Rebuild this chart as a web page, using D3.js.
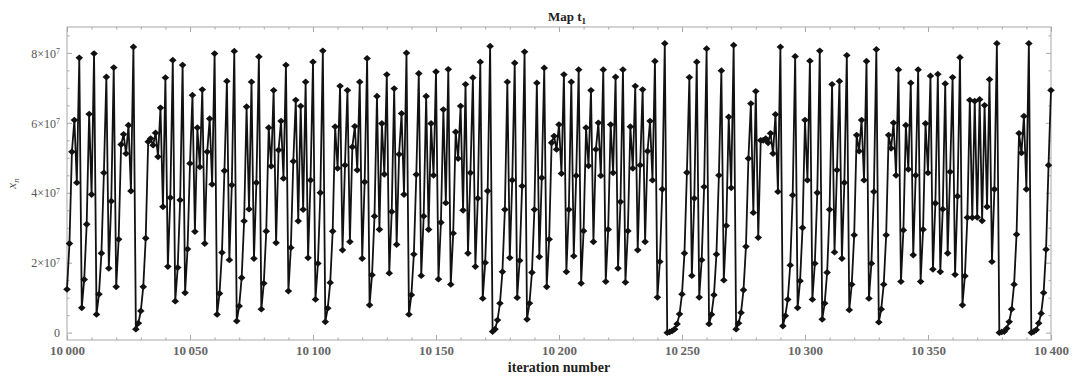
<!DOCTYPE html>
<html>
<head>
<meta charset="utf-8">
<script src="https://cdn.jsdelivr.net/npm/d3@7"></script>
<style>
  body { margin: 0; background: #fff; }
  svg { display: block; font-family: "Liberation Serif", "DejaVu Serif", serif; }
</style>
</head>
<body>
<svg id="chart" width="1075" height="381"></svg>
<script>
// iteration numbers run from 10000 to 10400, one point per iteration
const firstIteration = 10000;

// x_n, in units of 1e7
const xnValues = [
  1.24, 2.55, 5.17, 6.08, 4.29, 7.86, 0.71, 1.52, 3.1, 6.25, 3.95, 7.98, 0.52, 1.1, 2.27, 4.57, 7.31,
  1.84, 3.76, 7.58, 1.31, 2.67, 5.38, 5.67, 5.12, 5.93, 4.05, 8.17, 0.1, 0.27, 0.62, 1.31, 2.7,
  5.46, 5.55, 5.36, 5.71, 5.03, 6.43, 3.6, 7.29, 1.89, 3.86, 7.79, 0.9, 1.86, 3.79, 7.65, 1.14, 2.39,
  4.84, 6.79, 2.89, 5.86, 4.74, 6.95, 2.55, 5.17, 6.12, 4.24, 7.98, 0.52, 1.12, 2.29, 4.63, 7.19, 2.08,
  4.22, 8.05, 0.33, 0.76, 1.57, 3.19, 6.46, 3.53, 7.17, 2.12, 4.29, 7.89, 0.67, 1.41, 2.9, 5.86, 4.76,
  6.93, 2.57, 5.22, 6.05, 4.41, 7.65, 1.19, 2.43, 4.9, 6.65, 3.19, 6.48, 3.52, 7.17, 2.14, 4.36, 7.74,
  0.95, 1.98, 4.0, 8.06, 0.31, 0.7, 1.43, 2.9, 5.89, 4.7, 7.05, 2.36, 4.79, 6.93, 2.6, 5.31, 5.9,
  4.65, 7.17, 2.12, 4.31, 7.84, 0.79, 1.65, 3.33, 6.76, 2.95, 5.98, 4.53, 7.38, 1.7, 3.46, 6.98, 2.52,
  5.1, 6.27, 3.95, 8.0, 0.52, 1.08, 2.24, 4.52, 7.41, 1.63, 3.33, 6.76, 2.95, 5.98, 4.5, 7.46, 1.53,
  3.15, 6.38, 3.71, 7.53, 1.38, 2.84, 5.74, 4.98, 6.48, 3.5, 7.1, 2.27, 4.57, 7.29, 1.89, 3.84, 7.74, 0.98,
  2.0, 4.05, 8.19, 0.03, 0.1, 0.36, 0.84, 1.74, 3.52, 7.17, 2.14, 4.36, 7.71, 1.0, 2.06, 4.19, 8.03,
  0.38, 0.84, 1.72, 3.52, 7.14, 2.17, 4.43, 7.57, 1.31, 2.67, 5.43, 5.62, 5.24, 5.95, 4.55, 7.38,
  1.74, 3.52, 7.17, 2.19, 4.49, 7.52, 1.41, 2.91, 5.86, 4.77, 6.93, 2.6, 5.24, 6.0, 4.49, 7.52, 1.46,
  2.95, 5.95, 4.57, 7.31, 1.84, 3.74, 7.52, 1.44, 2.91, 5.89, 4.7, 7.05, 2.36, 4.79, 6.95, 2.6, 5.19, 6.05, 4.36,
  7.76, 1.01, 2.03, 4.1, 8.27, 0.0, 0.02, 0.05, 0.1, 0.25, 0.53, 1.1, 2.27, 4.58, 7.3, 1.63, 3.84,
  7.74, 1.01, 2.08, 4.17, 8.12, 0.25, 0.52, 1.08, 2.24, 4.5, 7.49, 1.5, 3.06, 6.17, 4.14, 8.22,
  0.1, 0.27, 0.57, 1.22, 2.46, 4.98, 6.55, 3.43, 6.9, 2.72, 5.5, 5.5, 5.55, 5.43, 5.7, 5.12, 6.24, 4.03,
  8.17, 0.19, 0.48, 0.95, 1.93, 3.93, 7.9, 0.71, 1.48, 3.0, 6.08, 4.36, 7.77, 0.95, 1.98, 4.0, 8.06,
  0.38, 0.84, 1.72, 3.52, 7.1, 2.3, 4.65, 7.19, 2.12, 4.29, 7.93, 0.65, 1.38, 2.79, 5.65, 5.19, 6.08,
  4.36, 7.76, 0.98, 1.98, 4.03, 8.1, 0.3, 0.67, 1.38, 2.79, 5.65, 5.27, 6.0, 4.5, 7.52, 1.46, 2.93,
  5.93, 4.67, 7.14, 2.22, 4.5, 7.52, 1.46, 2.95, 5.98, 4.57, 7.34, 1.81, 3.7, 7.39, 1.74, 3.53, 7.12,
  2.27, 4.6, 7.3, 1.66, 3.9, 7.87, 0.79, 1.62, 3.29, 6.65, 3.29, 6.62, 3.3, 6.67, 3.2, 6.5, 3.6,
  7.24, 2.03, 4.1, 8.27, 0.0, 0.02, 0.03, 0.12, 0.31, 0.67, 1.38, 2.81, 5.7, 5.14, 6.19, 4.1,
  8.27, 0.0, 0.03, 0.08, 0.27, 0.55, 1.14, 2.38, 4.79, 6.93
];

const xTickValues = [10000, 10050, 10100, 10150, 10200, 10250, 10300, 10350, 10400];
const xTickLabels = ['10\u2009000', '10\u2009050', '10\u2009100', '10\u2009150', '10\u2009200',
  '10\u2009250', '10\u2009300', '10\u2009350', '10\u2009400'];
const yTickValues = [0, 2e7, 4e7, 6e7, 8e7];
const yTickMantissas = ['0', '2', '4', '6', '8'];

const svg = d3.select('#chart');
const plotLeft = 67, plotRight = 1051, plotTop = 27, plotBottom = 340;

const x = d3.scaleLinear().domain([10000, 10400]).range([plotLeft, plotRight]);
const y = d3.scaleLinear().domain([-0.21e7, 8.74e7]).range([plotBottom, plotTop]);

const frameColor = '#a8a8a8';
const labelColor = '#555';

// minor ticks
const xMinor = d3.range(10000, 10401, 10).filter(v => v % 50 !== 0);
const yMinor = d3.range(0, 8.6e7, 0.5e7).filter(v => v % 2e7 !== 0);

function styleAxis(g) {
  g.select('.domain').remove();
  g.selectAll('.tick line').attr('stroke', frameColor);
}

svg.append('g').attr('transform', `translate(0,${plotBottom})`)
  .call(d3.axisBottom(x).tickValues(xMinor).tickSizeInner(-2.5).tickSizeOuter(0).tickFormat(''))
  .call(styleAxis);
svg.append('g').attr('transform', `translate(0,${plotTop})`)
  .call(d3.axisTop(x).tickValues(xMinor).tickSizeInner(-2.5).tickSizeOuter(0).tickFormat(''))
  .call(styleAxis);
svg.append('g').attr('transform', `translate(${plotLeft},0)`)
  .call(d3.axisLeft(y).tickValues(yMinor).tickSizeInner(-2.5).tickSizeOuter(0).tickFormat(''))
  .call(styleAxis);
svg.append('g').attr('transform', `translate(${plotRight},0)`)
  .call(d3.axisRight(y).tickValues(yMinor).tickSizeInner(-2.5).tickSizeOuter(0).tickFormat(''))
  .call(styleAxis);

// major ticks
const xAxis = svg.append('g').attr('transform', `translate(0,${plotBottom})`)
  .call(d3.axisBottom(x).tickValues(xTickValues).tickSizeInner(-5).tickSizeOuter(0).tickPadding(6)
    .tickFormat((d, i) => xTickLabels[i]))
  .call(styleAxis);
xAxis.selectAll('text')
  .style('font-family', '"Liberation Serif", serif')
  .style('font-size', '13px')
  .style('font-weight', 'bold')
  .attr('fill', '#666');

svg.append('g').attr('transform', `translate(0,${plotTop})`)
  .call(d3.axisTop(x).tickValues(xTickValues).tickSizeInner(-5).tickSizeOuter(0).tickFormat(''))
  .call(styleAxis);
svg.append('g').attr('transform', `translate(${plotRight},0)`)
  .call(d3.axisRight(y).tickValues(yTickValues).tickSizeInner(-5).tickSizeOuter(0).tickFormat(''))
  .call(styleAxis);

const yAxis = svg.append('g').attr('transform', `translate(${plotLeft},0)`)
  .call(d3.axisLeft(y).tickValues(yTickValues).tickSizeInner(-5).tickSizeOuter(0).tickFormat(''))
  .call(styleAxis);
yAxis.selectAll('.tick').each(function(d, i) {
  const t = d3.select(this).append('text')
    .attr('x', -7).attr('dy', '0.35em')
    .attr('text-anchor', 'end')
    .attr('fill', labelColor)
    .style('font-family', '"Liberation Serif", serif')
    .style('font-size', '12px');
  if (d === 0) {
    t.text(yTickMantissas[i]);
  } else {
    t.append('tspan').text(yTickMantissas[i] + '\u00d710');
    t.append('tspan').attr('dy', '-0.45em').style('font-size', '8px').text('7');
  }
});

// frame
svg.append('rect')
  .attr('x', plotLeft).attr('y', plotTop)
  .attr('width', plotRight - plotLeft).attr('height', plotBottom - plotTop)
  .attr('fill', 'none').attr('stroke', frameColor).attr('stroke-width', 1);

// series
const points = xnValues.map((v, i) => ({it: firstIteration + i, v: v * 1e7}));

svg.append('path')
  .datum(points)
  .attr('fill', 'none')
  .attr('stroke', '#111')
  .attr('stroke-width', 1.8)
  .attr('stroke-linejoin', 'round')
  .attr('d', d3.line().x(d => x(d.it)).y(d => y(d.v)));

svg.append('g').selectAll('path')
  .data(points)
  .enter().append('path')
  .attr('transform', d => `translate(${x(d.it)},${y(d.v)})`)
  .attr('d', 'M0,-3.4L3.8,0L0,3.4L-3.8,0Z')
  .attr('fill', '#111');

// titles
const title = svg.append('text')
  .attr('x', (plotLeft + plotRight) / 2 + 8).attr('y', 21)
  .attr('text-anchor', 'middle')
  .style('font-size', '13px')
  .style('font-weight', 'bold')
  .attr('fill', '#222');
title.append('tspan').text('Map  t');
title.append('tspan').attr('dy', '0.3em').style('font-size', '9px').text('1');

svg.append('text')
  .attr('x', (plotLeft + plotRight) / 2).attr('y', 372)
  .attr('text-anchor', 'middle')
  .style('font-size', '14px')
  .style('font-weight', 'bold')
  .attr('fill', '#222')
  .text('iteration number');

const ylab = svg.append('text')
  .attr('transform', `translate(16,${(plotTop + plotBottom) / 2}) rotate(-90)`)
  .attr('text-anchor', 'middle')
  .style('font-size', '13px')
  .style('font-style', 'italic')
  .attr('fill', labelColor);
ylab.append('tspan').text('x');
ylab.append('tspan').attr('dy', '0.3em').style('font-size', '9px').text('n');
</script>
</body>
</html>
